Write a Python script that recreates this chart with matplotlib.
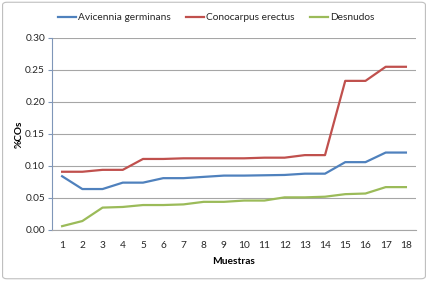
import matplotlib
matplotlib.use("Agg")
import matplotlib.pyplot as plt
from matplotlib.patches import FancyBboxPatch

plt.rcParams['font.family'] = ['Lato', 'DejaVu Sans']

muestras = list(range(1, 19))
avicennia = [0.084, 0.064, 0.064, 0.074, 0.074, 0.081, 0.081, 0.083, 0.085, 0.085,
             0.0855, 0.086, 0.088, 0.088, 0.106, 0.106, 0.121, 0.121]
conocarpus = [0.091, 0.091, 0.094, 0.094, 0.111, 0.111, 0.112, 0.112, 0.112, 0.112,
              0.113, 0.113, 0.117, 0.117, 0.233, 0.233, 0.255, 0.255]
desnudos = [0.006, 0.014, 0.035, 0.036, 0.039, 0.039, 0.040, 0.044, 0.044, 0.046,
            0.046, 0.051, 0.051, 0.052, 0.056, 0.057, 0.067, 0.067]
labels = ['Avicennia germinans', 'Conocarpus erectus', 'Desnudos']
colors = ['#4F81BD', '#C0504D', '#9BBB59']
yticks = [0.00, 0.05, 0.10, 0.15, 0.20, 0.25, 0.30]

fig = plt.figure(figsize=(4.28, 2.81), dpi=100)
fig.patch.set_facecolor('white')
border = FancyBboxPatch((0.006, 0.008), 0.988, 0.984, boxstyle="round,pad=0,rounding_size=0.01",
                        transform=fig.transFigure, fill=False, edgecolor='#BFBFBF', linewidth=0.8)
fig.patches.append(border)

ax = fig.add_axes([0.1215, 0.1815, 0.8505, 0.6833])
for series, lab, c in zip([avicennia, conocarpus, desnudos], labels, colors):
    ax.plot(muestras, series, color=c, linewidth=1.6, label=lab)

ax.set_xlim(0.5, 18.5)
ax.set_ylim(0, 0.30)
ax.set_yticks(yticks)
ax.set_yticklabels([f"{v:.2f}" for v in yticks])
ax.set_xticks(muestras)
ax.set_xticklabels([str(m) for m in muestras])
ax.grid(axis='y', color='#A6A6A6', linewidth=0.8)
ax.set_axisbelow(True)
for s in ['top', 'right']:
    ax.spines[s].set_visible(False)
ax.spines['left'].set_color('#7F96B8')
ax.spines['bottom'].set_color('#A6A6A6')
ax.tick_params(axis='y', length=3, color='#7F96B8', labelsize=7.3, pad=2, labelcolor='#262626')
ax.tick_params(axis='x', length=0, labelsize=7.3, pad=8, labelcolor='#262626')
ax.set_xlabel('Muestras', fontsize=7.3, fontweight='bold', labelpad=5)
ax.set_ylabel('%COs', fontsize=7.3, fontweight='bold', labelpad=1)

fig.legend(loc='upper center', bbox_to_anchor=(0.505, 0.985), ncol=3, frameon=False,
           fontsize=7.3, handlelength=1.8, columnspacing=1.5, handletextpad=0.2,
           labelcolor='#262626')

fig.savefig('out.png', dpi=100)
